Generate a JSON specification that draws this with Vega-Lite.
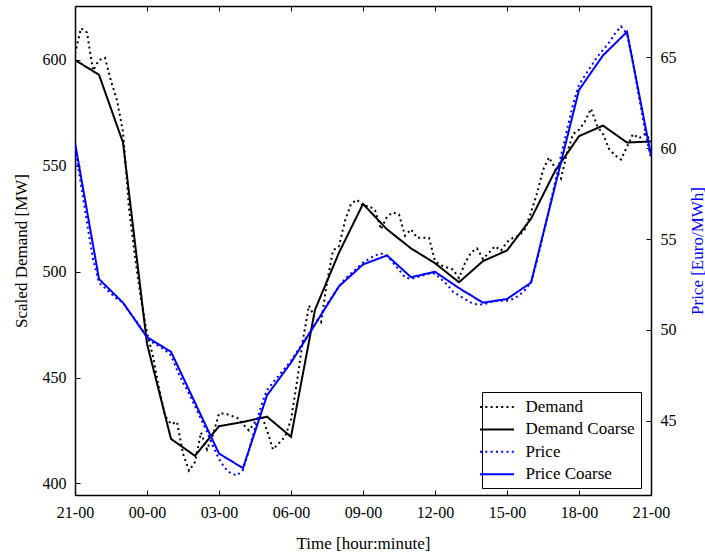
{
  "$schema": "https://vega.github.io/schema/vega-lite/v6.json",
  "width": 576,
  "height": 489,
  "autosize": {"type": "none"},
  "padding": {"left": 75, "top": 6, "right": 54, "bottom": 58},
  "background": "white",
  "config": {
    "view": {"stroke": null},
    "font": "Liberation Serif",
    "axis": {
      "domainColor": "black", "domainWidth": 1.5,
      "tickColor": "black", "tickWidth": 1, "tickSize": -5,
      "labelFont": "Liberation Serif", "labelFontSize": 16, "labelColor": "black",
      "titleFont": "Liberation Serif", "titleFontSize": 17, "titleFontWeight": "normal", "titleColor": "black",
      "grid": false
    },
    "legend": {
      "labelFont": "Liberation Serif", "labelFontSize": 17, "labelColor": "black"
    }
  },
  "datasets": {
    "demand": [
      {"series":"Demand","t":0,"mw":603},{"series":"Demand","t":0.25,"mw":615},{"series":"Demand","t":0.5,"mw":613},{"series":"Demand","t":0.75,"mw":595},
      {"series":"Demand","t":1,"mw":600},{"series":"Demand","t":1.25,"mw":601},{"series":"Demand","t":1.5,"mw":590},{"series":"Demand","t":1.75,"mw":581},
      {"series":"Demand","t":2,"mw":566},{"series":"Demand","t":2.25,"mw":530},{"series":"Demand","t":2.5,"mw":507},{"series":"Demand","t":2.75,"mw":487},
      {"series":"Demand","t":3,"mw":471},{"series":"Demand","t":3.25,"mw":460},{"series":"Demand","t":3.5,"mw":445},{"series":"Demand","t":3.75,"mw":432},
      {"series":"Demand","t":4,"mw":428},{"series":"Demand","t":4.25,"mw":429},{"series":"Demand","t":4.5,"mw":414},{"series":"Demand","t":4.75,"mw":406},
      {"series":"Demand","t":5,"mw":410},{"series":"Demand","t":5.25,"mw":424},{"series":"Demand","t":5.5,"mw":416},{"series":"Demand","t":5.75,"mw":423},
      {"series":"Demand","t":6,"mw":433},{"series":"Demand","t":6.25,"mw":433},{"series":"Demand","t":6.5,"mw":432},{"series":"Demand","t":6.75,"mw":431},
      {"series":"Demand","t":7,"mw":428},{"series":"Demand","t":7.25,"mw":425},{"series":"Demand","t":7.5,"mw":429},{"series":"Demand","t":7.75,"mw":433},
      {"series":"Demand","t":8,"mw":425},{"series":"Demand","t":8.25,"mw":416},{"series":"Demand","t":8.5,"mw":419},{"series":"Demand","t":8.75,"mw":422},
      {"series":"Demand","t":9,"mw":430},{"series":"Demand","t":9.25,"mw":448},{"series":"Demand","t":9.5,"mw":468},{"series":"Demand","t":9.75,"mw":484},
      {"series":"Demand","t":10,"mw":478},{"series":"Demand","t":10.25,"mw":476},{"series":"Demand","t":10.5,"mw":495},{"series":"Demand","t":10.75,"mw":510},
      {"series":"Demand","t":11,"mw":512},{"series":"Demand","t":11.25,"mw":524},{"series":"Demand","t":11.5,"mw":532},{"series":"Demand","t":11.75,"mw":534},
      {"series":"Demand","t":12,"mw":531},{"series":"Demand","t":12.25,"mw":531},{"series":"Demand","t":12.5,"mw":529},{"series":"Demand","t":12.75,"mw":520},
      {"series":"Demand","t":13,"mw":526},{"series":"Demand","t":13.25,"mw":528},{"series":"Demand","t":13.5,"mw":527},{"series":"Demand","t":13.75,"mw":517},
      {"series":"Demand","t":14,"mw":520},{"series":"Demand","t":14.25,"mw":516},{"series":"Demand","t":14.5,"mw":516},{"series":"Demand","t":14.75,"mw":516},
      {"series":"Demand","t":15,"mw":505},{"series":"Demand","t":15.25,"mw":503},{"series":"Demand","t":15.5,"mw":502},{"series":"Demand","t":15.75,"mw":501},
      {"series":"Demand","t":16,"mw":497},{"series":"Demand","t":16.25,"mw":504},{"series":"Demand","t":16.5,"mw":509},{"series":"Demand","t":16.75,"mw":511},
      {"series":"Demand","t":17,"mw":506},{"series":"Demand","t":17.25,"mw":509},{"series":"Demand","t":17.5,"mw":512},{"series":"Demand","t":17.75,"mw":510},
      {"series":"Demand","t":18,"mw":514},{"series":"Demand","t":18.25,"mw":516},{"series":"Demand","t":18.5,"mw":517},{"series":"Demand","t":18.75,"mw":520},
      {"series":"Demand","t":19,"mw":528},{"series":"Demand","t":19.25,"mw":537},{"series":"Demand","t":19.5,"mw":548},{"series":"Demand","t":19.75,"mw":554},
      {"series":"Demand","t":20,"mw":549},{"series":"Demand","t":20.25,"mw":544},{"series":"Demand","t":20.5,"mw":556},{"series":"Demand","t":20.75,"mw":565},
      {"series":"Demand","t":21,"mw":567},{"series":"Demand","t":21.25,"mw":571},{"series":"Demand","t":21.5,"mw":577},{"series":"Demand","t":21.75,"mw":569},
      {"series":"Demand","t":22,"mw":565},{"series":"Demand","t":22.25,"mw":558},{"series":"Demand","t":22.5,"mw":555},{"series":"Demand","t":22.75,"mw":553},
      {"series":"Demand","t":23,"mw":559},{"series":"Demand","t":23.25,"mw":565},{"series":"Demand","t":23.5,"mw":563},{"series":"Demand","t":23.75,"mw":565},
      {"series":"Demand","t":24,"mw":562},
      {"series":"Demand Coarse","t":0,"mw":600},{"series":"Demand Coarse","t":1,"mw":593},{"series":"Demand Coarse","t":2,"mw":561},{"series":"Demand Coarse","t":3,"mw":466},
      {"series":"Demand Coarse","t":4,"mw":421},{"series":"Demand Coarse","t":5,"mw":413},{"series":"Demand Coarse","t":6,"mw":427},{"series":"Demand Coarse","t":7,"mw":429},
      {"series":"Demand Coarse","t":8,"mw":431.5},{"series":"Demand Coarse","t":9,"mw":422},{"series":"Demand Coarse","t":10,"mw":482},{"series":"Demand Coarse","t":11,"mw":509},
      {"series":"Demand Coarse","t":12,"mw":532},{"series":"Demand Coarse","t":13,"mw":520},{"series":"Demand Coarse","t":14,"mw":511},{"series":"Demand Coarse","t":15,"mw":504},
      {"series":"Demand Coarse","t":16,"mw":495},{"series":"Demand Coarse","t":17,"mw":505},{"series":"Demand Coarse","t":18,"mw":510},{"series":"Demand Coarse","t":19,"mw":525},
      {"series":"Demand Coarse","t":20,"mw":547.5},{"series":"Demand Coarse","t":21,"mw":564},{"series":"Demand Coarse","t":22,"mw":569},{"series":"Demand Coarse","t":23,"mw":561},
      {"series":"Demand Coarse","t":24,"mw":561.5}
    ],
    "price": [
      {"series":"Price","t":0,"eur":60.0},{"series":"Price","t":0.25,"eur":58.0},{"series":"Price","t":0.5,"eur":55.9},{"series":"Price","t":0.75,"eur":53.9},
      {"series":"Price","t":1,"eur":52.6},{"series":"Price","t":1.25,"eur":52.3},{"series":"Price","t":1.5,"eur":52.0},{"series":"Price","t":1.75,"eur":51.7},
      {"series":"Price","t":2,"eur":51.5},{"series":"Price","t":2.25,"eur":51.0},{"series":"Price","t":2.5,"eur":50.6},{"series":"Price","t":2.75,"eur":50.1},
      {"series":"Price","t":3,"eur":49.6},{"series":"Price","t":3.25,"eur":49.3},{"series":"Price","t":3.5,"eur":49.1},{"series":"Price","t":3.75,"eur":48.9},
      {"series":"Price","t":4,"eur":48.6},{"series":"Price","t":4.25,"eur":47.8},{"series":"Price","t":4.5,"eur":47.1},{"series":"Price","t":4.75,"eur":46.5},
      {"series":"Price","t":5,"eur":45.8},{"series":"Price","t":5.25,"eur":45.1},{"series":"Price","t":5.5,"eur":44.4},{"series":"Price","t":5.75,"eur":43.6},
      {"series":"Price","t":6,"eur":42.9},{"series":"Price","t":6.25,"eur":42.4},{"series":"Price","t":6.5,"eur":42.1},{"series":"Price","t":6.75,"eur":42.0},
      {"series":"Price","t":7,"eur":42.3},{"series":"Price","t":7.25,"eur":43.4},{"series":"Price","t":7.5,"eur":44.6},{"series":"Price","t":7.75,"eur":45.8},
      {"series":"Price","t":8,"eur":46.7},{"series":"Price","t":8.25,"eur":47.1},{"series":"Price","t":8.5,"eur":47.5},{"series":"Price","t":8.75,"eur":47.9},
      {"series":"Price","t":9,"eur":48.3},{"series":"Price","t":9.25,"eur":48.8},{"series":"Price","t":9.5,"eur":49.3},{"series":"Price","t":9.75,"eur":49.8},
      {"series":"Price","t":10,"eur":50.3},{"series":"Price","t":10.25,"eur":50.8},{"series":"Price","t":10.5,"eur":51.4},{"series":"Price","t":10.75,"eur":51.9},
      {"series":"Price","t":11,"eur":52.4},{"series":"Price","t":11.25,"eur":52.8},{"series":"Price","t":11.5,"eur":53.1},{"series":"Price","t":11.75,"eur":53.4},
      {"series":"Price","t":12,"eur":53.7},{"series":"Price","t":12.25,"eur":53.9},{"series":"Price","t":12.5,"eur":54.1},{"series":"Price","t":12.75,"eur":54.2},
      {"series":"Price","t":13,"eur":54.1},{"series":"Price","t":13.25,"eur":53.7},{"series":"Price","t":13.5,"eur":53.3},{"series":"Price","t":13.75,"eur":52.9},
      {"series":"Price","t":14,"eur":52.8},{"series":"Price","t":14.25,"eur":52.9},{"series":"Price","t":14.5,"eur":53.0},{"series":"Price","t":14.75,"eur":53.1},
      {"series":"Price","t":15,"eur":53.1},{"series":"Price","t":15.25,"eur":52.8},{"series":"Price","t":15.5,"eur":52.5},{"series":"Price","t":15.75,"eur":52.1},
      {"series":"Price","t":16,"eur":51.9},{"series":"Price","t":16.25,"eur":51.7},{"series":"Price","t":16.5,"eur":51.5},{"series":"Price","t":16.75,"eur":51.4},
      {"series":"Price","t":17,"eur":51.4},{"series":"Price","t":17.25,"eur":51.5},{"series":"Price","t":17.5,"eur":51.6},{"series":"Price","t":17.75,"eur":51.6},
      {"series":"Price","t":18,"eur":51.6},{"series":"Price","t":18.25,"eur":51.7},{"series":"Price","t":18.5,"eur":51.9},{"series":"Price","t":18.75,"eur":52.2},
      {"series":"Price","t":19,"eur":52.6},{"series":"Price","t":19.25,"eur":53.8},{"series":"Price","t":19.5,"eur":55.2},{"series":"Price","t":19.75,"eur":56.6},
      {"series":"Price","t":20,"eur":58.1},{"series":"Price","t":20.25,"eur":59.6},{"series":"Price","t":20.5,"eur":61.0},{"series":"Price","t":20.75,"eur":62.4},
      {"series":"Price","t":21,"eur":63.5},{"series":"Price","t":21.25,"eur":64.0},{"series":"Price","t":21.5,"eur":64.5},{"series":"Price","t":21.75,"eur":65.0},
      {"series":"Price","t":22,"eur":65.4},{"series":"Price","t":22.25,"eur":65.8},{"series":"Price","t":22.5,"eur":66.3},{"series":"Price","t":22.75,"eur":66.7},
      {"series":"Price","t":23,"eur":66.3},{"series":"Price","t":23.25,"eur":64.7},{"series":"Price","t":23.5,"eur":62.8},{"series":"Price","t":23.75,"eur":61.0},
      {"series":"Price","t":24,"eur":59.4},
      {"series":"Price Coarse","t":0,"eur":60.3},{"series":"Price Coarse","t":1,"eur":52.8},{"series":"Price Coarse","t":2,"eur":51.5},{"series":"Price Coarse","t":3,"eur":49.6},
      {"series":"Price Coarse","t":4,"eur":48.8},{"series":"Price Coarse","t":5,"eur":46.0},{"series":"Price Coarse","t":6,"eur":43.2},{"series":"Price Coarse","t":7,"eur":42.4},
      {"series":"Price Coarse","t":8,"eur":46.4},{"series":"Price Coarse","t":9,"eur":48.2},{"series":"Price Coarse","t":10,"eur":50.3},{"series":"Price Coarse","t":11,"eur":52.4},
      {"series":"Price Coarse","t":12,"eur":53.6},{"series":"Price Coarse","t":13,"eur":54.1},{"series":"Price Coarse","t":14,"eur":52.9},{"series":"Price Coarse","t":15,"eur":53.2},
      {"series":"Price Coarse","t":16,"eur":52.3},{"series":"Price Coarse","t":17,"eur":51.5},{"series":"Price Coarse","t":18,"eur":51.7},{"series":"Price Coarse","t":19,"eur":52.6},
      {"series":"Price Coarse","t":20,"eur":57.9},{"series":"Price Coarse","t":21,"eur":63.2},{"series":"Price Coarse","t":22,"eur":65.1},{"series":"Price Coarse","t":23,"eur":66.4},
      {"series":"Price Coarse","t":24,"eur":59.6}
    ]
  },
  "layer": [
    {
      "data": {"name": "demand"},
      "mark": {"type": "line", "strokeWidth": 2, "clip": true},
      "encoding": {
        "x": {
          "field": "t", "type": "quantitative",
          "scale": {"domain": [0, 24], "nice": false, "zero": false},
          "axis": {
            "orient": "bottom",
            "values": [0, 3, 6, 9, 12, 15, 18, 21, 24],
            "labelExpr": "(((datum.value + 21) % 24) < 10 ? '0' : '') + ((datum.value + 21) % 24) + '-00'",
            "labelPadding": 14,
            "labelFlush": false,
            "title": "Time [hour:minute]",
            "titleX": 288, "titleY": 53, "titleAlign": "center", "titleBaseline": "alphabetic"
          }
        },
        "y": {
          "field": "mw", "type": "quantitative",
          "scale": {"domain": [394.5, 625.5], "nice": false, "zero": false},
          "axis": {
            "orient": "left",
            "values": [400, 450, 500, 550, 600],
            "labelPadding": 14,
            "title": "Scaled Demand [MW]",
            "titleAngle": -90, "titleX": -49, "titleY": 244.5, "titleAlign": "center", "titleBaseline": "alphabetic"
          }
        },
        "color": {
          "field": "series", "type": "nominal",
          "scale": {"domain": ["Demand", "Demand Coarse", "Price", "Price Coarse"], "range": ["#000000", "#000000", "#0000ff", "#0000ff"]},
          "legend": {
            "orient": "none", "legendX": 407, "legendY": 386, "title": null,
            "symbolType": "M-2,0H2", "symbolSize": 289, "symbolStrokeWidth": 2,
            "strokeColor": "black", "fillColor": "white", "padding": 5.5, "rowPadding": 4.4, "labelOffset": 19
          }
        },
        "strokeDash": {
          "field": "series", "type": "nominal",
          "scale": {"domain": ["Demand", "Demand Coarse", "Price", "Price Coarse"], "range": [[2, 3.3], [1, 0], [2, 3.3], [1, 0]]},
          "legend": {
            "orient": "none", "legendX": 407, "legendY": 386, "title": null,
            "symbolType": "M-2,0H2", "symbolSize": 289, "symbolStrokeWidth": 2,
            "strokeColor": "black", "fillColor": "white", "padding": 5.5, "rowPadding": 4.4, "labelOffset": 19
          }
        }
      }
    },
    {
      "data": {"name": "price"},
      "mark": {"type": "line", "strokeWidth": 2, "clip": true},
      "encoding": {
        "x": {
          "field": "t", "type": "quantitative",
          "scale": {"domain": [0, 24], "nice": false, "zero": false},
          "axis": {"orient": "top", "values": [0, 3, 6, 9, 12, 15, 18, 21, 24], "labels": false, "title": null}
        },
        "y": {
          "field": "eur", "type": "quantitative",
          "scale": {"domain": [40.92, 67.82], "nice": false, "zero": false},
          "axis": {
            "orient": "right",
            "values": [45, 50, 55, 60, 65],
            "labelPadding": 14,
            "title": "Price [Euro/MWh]", "titleColor": "#0000ff",
            "titleAngle": -90, "titleX": 51, "titleY": 244.5, "titleAlign": "center", "titleBaseline": "alphabetic"
          }
        },
        "color": {
          "field": "series", "type": "nominal",
          "scale": {"domain": ["Demand", "Demand Coarse", "Price", "Price Coarse"], "range": ["#000000", "#000000", "#0000ff", "#0000ff"]},
          "legend": {
            "orient": "none", "legendX": 407, "legendY": 386, "title": null,
            "symbolType": "M-2,0H2", "symbolSize": 289, "symbolStrokeWidth": 2,
            "strokeColor": "black", "fillColor": "white", "padding": 5.5, "rowPadding": 4.4, "labelOffset": 19
          }
        },
        "strokeDash": {
          "field": "series", "type": "nominal",
          "scale": {"domain": ["Demand", "Demand Coarse", "Price", "Price Coarse"], "range": [[2, 3.3], [1, 0], [2, 3.3], [1, 0]]},
          "legend": {
            "orient": "none", "legendX": 407, "legendY": 386, "title": null,
            "symbolType": "M-2,0H2", "symbolSize": 289, "symbolStrokeWidth": 2,
            "strokeColor": "black", "fillColor": "white", "padding": 5.5, "rowPadding": 4.4, "labelOffset": 19
          }
        }
      }
    }
  ],
  "resolve": {
    "scale": {"x": "independent", "y": "independent"},
    "axis": {"x": "independent", "y": "independent"}
  }
}
